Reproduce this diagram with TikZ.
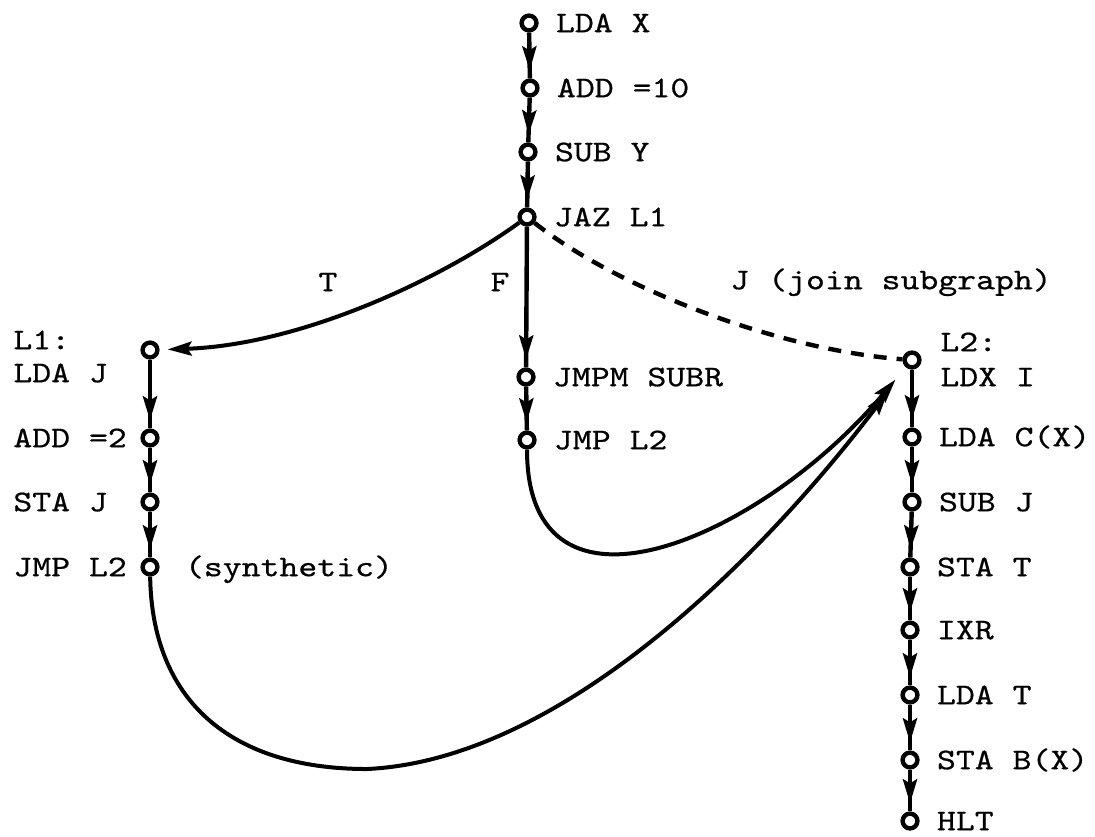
\documentclass[tikz,border=0pt]{standalone}
\usepackage{fontspec}
\newfontfamily\codefont{lmmono10-regular.otf}[FakeStretch=1.2,FakeBold=0.6]
\usetikzlibrary{arrows.meta,decorations.markings}

\begin{document}
\begin{tikzpicture}[x=0.5pt,y=-0.5pt,
  stmt/.style={circle,draw,line width=2.2pt,minimum size=7.4pt,inner sep=0pt},
  code/.style={font=\codefont\fontsize{15}{17}\selectfont,inner sep=1pt,text height=9.2pt,text depth=0pt},
  every label/.style={code},
  label distance=7.5pt,
  flow/.style={line width=2.2pt,postaction={decorate},
    decoration={markings,mark=at position -4pt with {\arrow{Stealth[length=12pt,width=7pt,inset=2pt]}}}},
  jump/.style={line width=2pt,-{Stealth[length=12pt,width=7pt,inset=2pt]}},
  joinedge/.style={line width=2.2pt,dash pattern=on 6.5pt off 5pt}]
\useasboundingbox (0,0) rectangle (1095,836);
% Hauptzweig
\node[stmt,label={right:LDA X}] (lda) at (529,23) {};
\node[stmt,label={right:ADD =10}] (add) at (530,88) {};
\node[stmt,label={right:SUB Y}] (sub) at (528,152) {};
\node[stmt,label={right:JAZ L1}] (jaz) at (527,217) {};
\node[stmt,label={right:JMPM SUBR}] (jmpm) at (526,377) {};
\node[stmt,label={right:JMP L2}] (jmpb) at (527,440) {};
% Zweig L1
\node[stmt] (l1) at (150,350) {};
\node[stmt] (add2) at (150,438) {};
\node[stmt] (sta) at (150,502) {};
\node[stmt,label={[label distance=11.5pt]right:(synthetic)}] (jmpa) at (150,567) {};
\node[code,anchor=west] (t-l1) at (11,340) {L1:};
\node[code,anchor=west] (t-ldaj) at (11,373) {LDA J};
\node[code,anchor=west] (t-add2) at (11,438) {ADD =2};
\node[code,anchor=west] (t-staj) at (11,502) {STA J};
\node[code,anchor=west] (t-jmpa) at (11,567) {JMP L2};
% Zweig L2
\node[stmt] (l2) at (912,360) {};
\node[code,anchor=west] (t-l2) at (938,342) {L2:};
\node[code,anchor=west] (t-ldx) at (938,377) {LDX I};
\node[stmt,label={right:LDA C(X)}] (ldac) at (912,437) {};
\node[stmt,label={right:SUB J}] (subj) at (912,502) {};
\node[stmt,label={right:STA T}] (stat) at (910,567) {};
\node[stmt,label={right:IXR}] (ixr) at (910,630) {};
\node[stmt,label={right:LDA T}] (ldat) at (910,695) {};
\node[stmt,label={right:STA B(X)}] (stab) at (910,760) {};
\node[stmt,label={right:HLT}] (hlt) at (910,821) {};
% Kanten
\draw[flow] (lda) -- (add);
\draw[flow] (add) -- (sub);
\draw[flow] (sub) -- (jaz);
\draw[flow] (jaz) -- (jmpm);
\draw[flow] (jmpm) -- (jmpb);
\draw[flow] (l1) -- (add2);
\draw[flow] (add2) -- (sta);
\draw[flow] (sta) -- (jmpa);
\draw[flow] (l2) -- (ldac);
\draw[flow] (ldac) -- (subj);
\draw[flow] (subj) -- (stat);
\draw[flow] (stat) -- (ixr);
\draw[flow] (ixr) -- (ldat);
\draw[flow] (ldat) -- (stab);
\draw[flow] (stab) -- (hlt);
\draw[jump,shorten >=4pt] (jaz) .. controls (440,280) and (300,345) .. (l1);
\draw[joinedge] (jaz) .. controls (620,290) and (780,350) .. (l2);
\draw[jump,shorten >=8pt] (jmpb) .. controls (527,640) and (760,540) .. (l2);
\draw[jump,shorten >=15pt] (jmpa) .. controls (152,700) and (230,769) .. (367,769)
  .. controls (560,760) and (760,560) .. (l2);
% Beschriftungen
\node[code] (e-t) at (328,282) {T};
\node[code] (e-f) at (500,282) {F};
\node[code,anchor=west] (e-j) at (728,280) {J (join subgraph)};
\end{tikzpicture}
\end{document}
